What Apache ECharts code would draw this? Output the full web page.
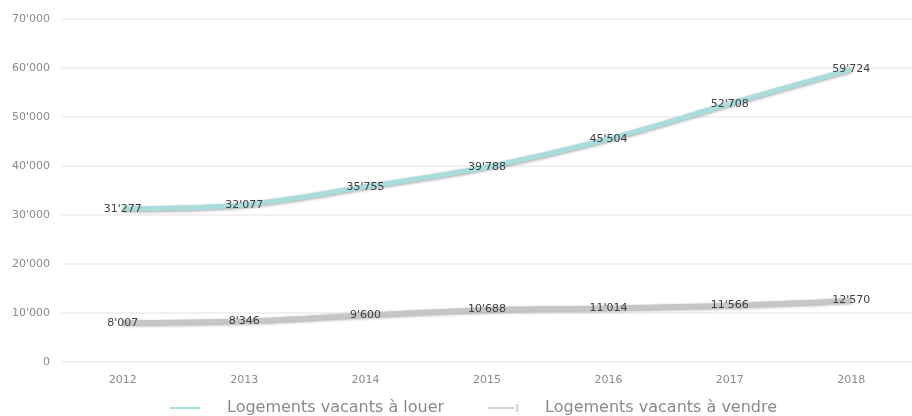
<!DOCTYPE html>
<html>
<head>
<meta charset="utf-8">
<script src="https://cdn.jsdelivr.net/npm/echarts@6/dist/echarts.min.js"></script>
<style>
  html, body { margin: 0; padding: 0; background: #fff; }
  #chart { width: 912px; height: 416px; }
</style>
</head>
<body>
<div id="chart"></div>
<script>
// Vacant dwellings, yearly counts
const years = ['2012', '2013', '2014', '2015', '2016', '2017', '2018'];
const vacantToRent = [31277, 32077, 35755, 39788, 45504, 52708, 59724];
const vacantForSale = [8007, 8346, 9600, 10688, 11014, 11566, 12570];
const seriesNames = ['Logements vacants à louer', 'Logements vacants à vendre'];

// Swiss-style thousands separator: 31'277
function fmt(v) {
  return String(v).replace(/\B(?=(\d{3})+(?!\d))/g, "'");
}

const chart = echarts.init(document.getElementById('chart'), null, { renderer: 'canvas' });

const labelStyle = {
  show: true,
  position: 'inside',
  color: '#404040',
  fontFamily: 'DejaVu Sans',
  fontSize: 11,
  formatter: p => fmt(p.value)
};

function lineSeries(name, data, color) {
  return {
    name: name,
    type: 'line',
    smooth: 0.35,
    symbol: 'circle',
    symbolSize: 0.1,
    showSymbol: true,
    data: data,
    color: color,
    itemStyle: { color: color },
    lineStyle: {
      width: 5, color: color,
      shadowColor: 'rgba(0,0,0,0.35)', shadowBlur: 3, shadowOffsetY: 1
    },
    label: labelStyle,
    labelLayout: { hideOverlap: false },
    z: 2
  };
}

chart.setOption({
  animation: false,
  backgroundColor: '#ffffff',
  grid: { left: 62, width: 863, top: 19, bottom: 54, containLabel: false },
  xAxis: {
    type: 'category',
    data: years,
    boundaryGap: true,
    axisLine: { show: false },
    axisTick: { show: false },
    axisLabel: { color: '#8a8a8a', fontFamily: 'DejaVu Sans', fontSize: 11, margin: 13 }
  },
  yAxis: {
    type: 'value',
    min: 0,
    max: 70000,
    interval: 10000,
    axisLine: { show: false },
    axisTick: { show: false },
    axisLabel: { color: '#8a8a8a', fontFamily: 'DejaVu Sans', fontSize: 11, margin: 12, formatter: v => fmt(v) },
    splitLine: { lineStyle: { color: '#ececec', width: 1.5 } }
  },
  legend: {
    left: 165,
    top: 395,
    itemGap: 44,
    itemWidth: 30,
    itemHeight: 10,
    textStyle: { color: '#8a8a8a', fontFamily: 'DejaVu Sans', fontSize: 16, padding: [0, 0, 0, 22] },
    data: [
      { name: seriesNames[0], icon: 'path://M0,4H30V6H0Z' },
      { name: seriesNames[1], icon: 'path://M0,4H33V6H0Z M36,0H38V10H36Z' }
    ]
  },
  series: [
    lineSeries(seriesNames[0], vacantToRent, '#a9dcdc'),
    lineSeries(seriesNames[1], vacantForSale, '#c6c6c6')
  ]
});
</script>
</body>
</html>
